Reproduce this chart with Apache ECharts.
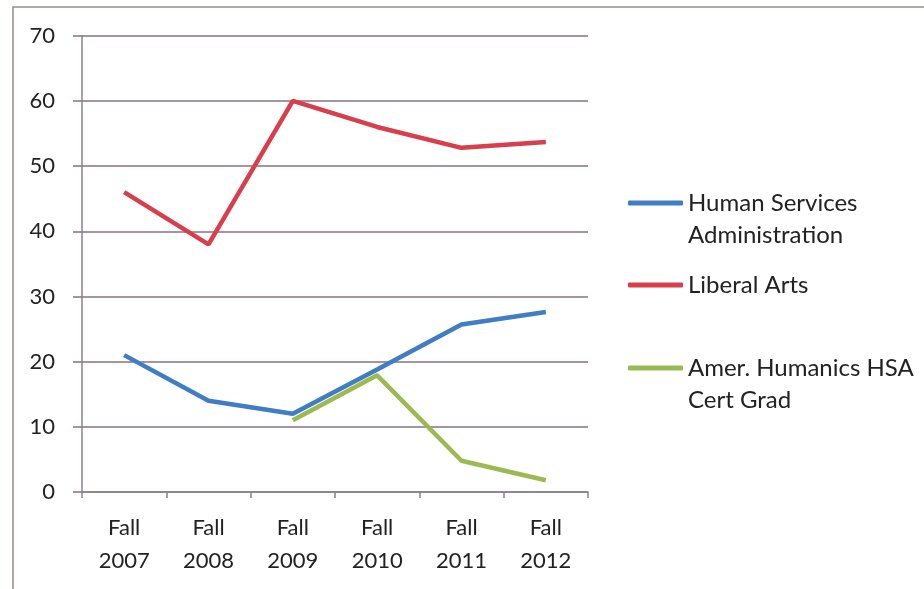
<!DOCTYPE html>
<html>
<head>
<meta charset="utf-8">
<script src="https://cdn.jsdelivr.net/npm/echarts@6/dist/echarts.min.js"></script>
<style>
html,body{margin:0;padding:0;background:#fff;}
#chart{width:924px;height:589px;}
</style>
</head>
<body>
<div id="chart"></div>
<script>
const categories = ['Fall\n2007','Fall\n2008','Fall\n2009','Fall\n2010','Fall\n2011','Fall\n2012'];
const humanServices = [21, 14, 12, 18.8, 25.7, 27.6];
const liberalArts = [46, 38, 60, 56, 52.8, 53.7];
const amerHumanics = [null, null, 11, 17.9, 4.8, 1.8];
const seriesNames = ['Human Services\nAdministration', 'Liberal Arts', 'Amer. Humanics HSA\nCert Grad'];
const colors = ['#3f7dc4', '#d83e4c', '#9bbb52'];

const font = 'Lato';
const chart = echarts.init(document.getElementById('chart'), null, {renderer:'canvas'});

function legendAt(name, top, twoLine) {
  return {
    data: [name],
    left: 623,
    top: top,
    orient: 'vertical',
    icon: 'roundRect',
    itemWidth: 55,
    itemHeight: 5,
    itemGap: 0,
    selectedMode: false,
    formatter: function (n) { return twoLine ? '\n' + n : n; },
    textStyle: {
      fontFamily: font, fontSize: 24, color: '#222', lineHeight: 32
    }
  };
}

chart.setOption({
  animation: false,
  backgroundColor: '#fff',
  color: colors,
  graphic: [{
    type: 'rect', silent: true,
    shape: {x: 13, y: 7, width: 1200, height: 1200},
    style: {fill: null, stroke: '#9a8a86', lineWidth: 1.5}
  }],
  grid: {left: 82, top: 35.7, right: 336, bottom: 97, containLabel: false},
  legend: [
    legendAt(seriesNames[0], 150, true),
    legendAt(seriesNames[1], 264, false),
    legendAt(seriesNames[2], 315, true)
  ],
  xAxis: {
    type: 'category',
    data: categories,
    boundaryGap: true,
    axisLine: {lineStyle: {color: '#8a8090', width: 1.5}},
    axisTick: {show: true, length: 6, lineStyle: {color: '#8a8090', width: 1.5}},
    axisLabel: {fontFamily: font, fontSize: 22, color: '#222', lineHeight: 33, margin: 19}
  },
  yAxis: {
    type: 'value',
    min: 0, max: 70, interval: 10,
    axisLine: {show: true, lineStyle: {color: '#8a8090', width: 1.5}},
    axisTick: {show: true, length: 9, lineStyle: {color: '#8a7080', width: 1.5}},
    splitLine: {lineStyle: {color: '#8a7080', width: 1.5}},
    axisLabel: {fontFamily: font, fontSize: 22, color: '#222', margin: 27}
  },
  series: [
    {name: seriesNames[0], type: 'line', data: humanServices, symbol: 'none', lineStyle: {width: 4.5, color: colors[0]}, itemStyle: {color: colors[0]}, z: 3},
    {name: seriesNames[1], type: 'line', data: liberalArts, symbol: 'none', lineStyle: {width: 4.5, color: colors[1]}, itemStyle: {color: colors[1]}, z: 3},
    {name: seriesNames[2], type: 'line', data: amerHumanics, symbol: 'none', lineStyle: {width: 4.5, color: colors[2]}, itemStyle: {color: colors[2]}, z: 4}
  ]
});
</script>
</body>
</html>
